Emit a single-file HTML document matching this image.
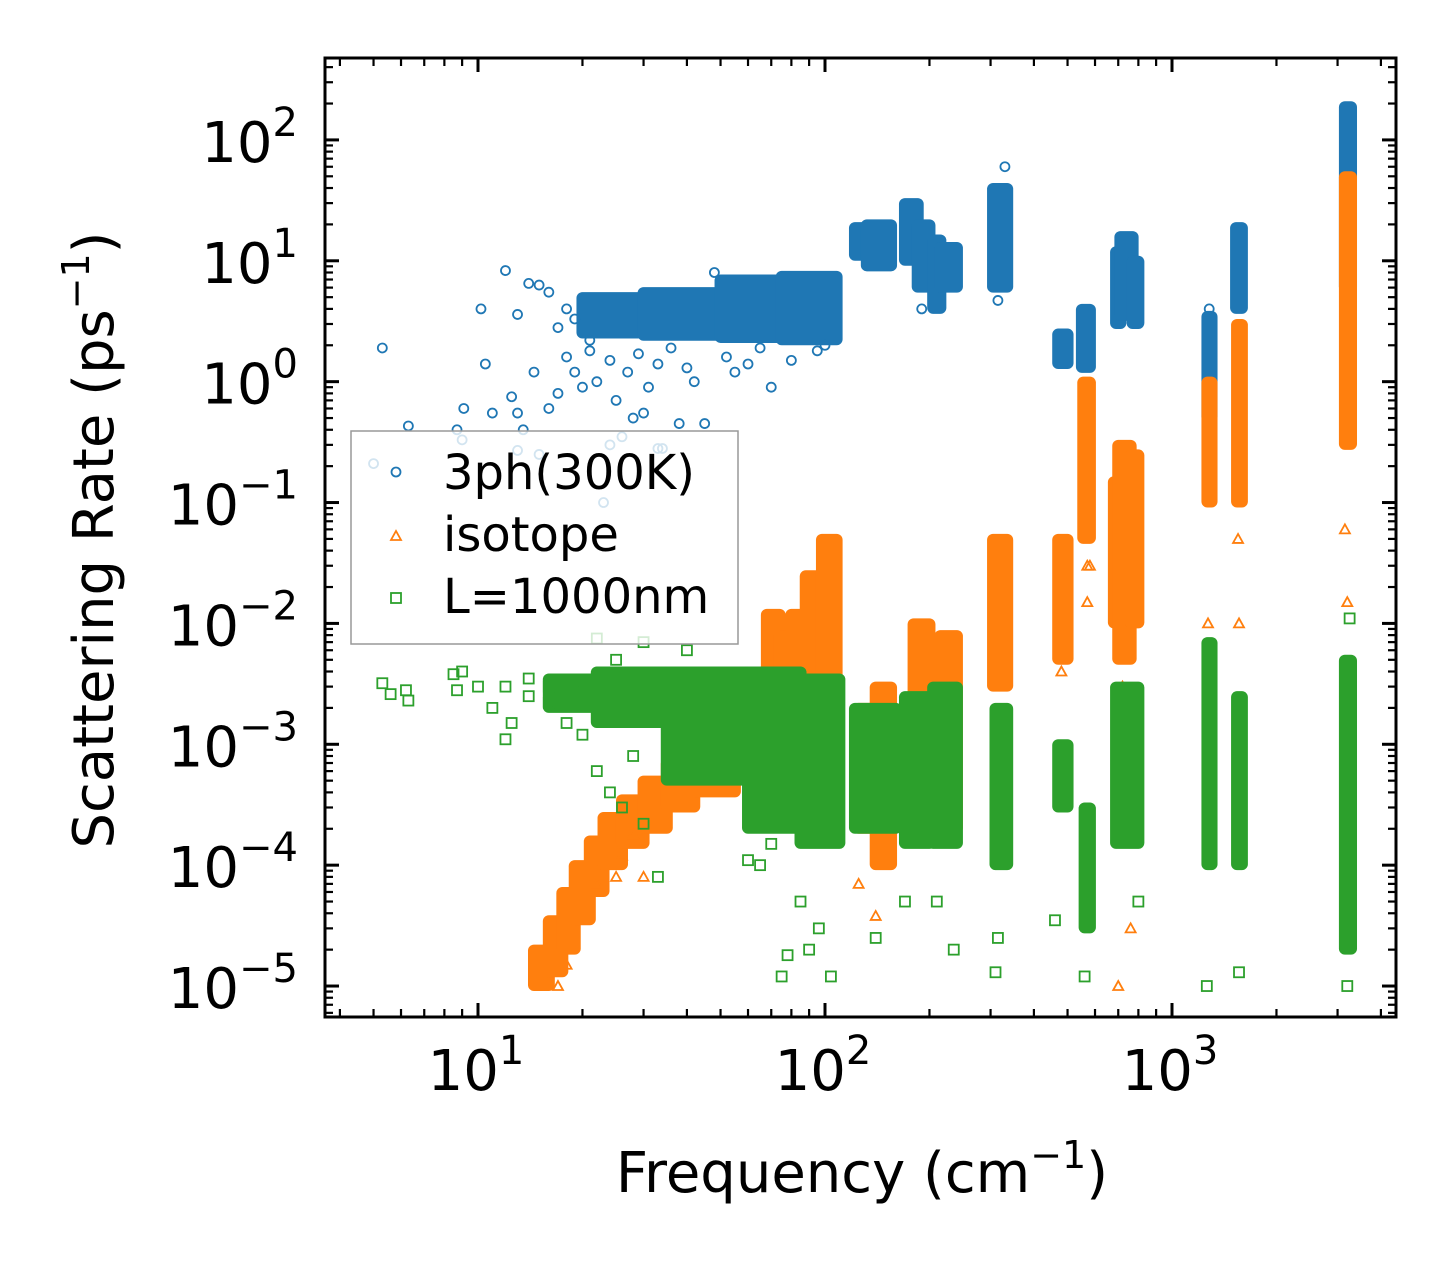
<!DOCTYPE html>
<html><head><meta charset="utf-8"><style>
body{margin:0;background:#fff;}
svg{display:block;font-family:"DejaVu Sans","Liberation Sans",sans-serif;}
</style></head><body>
<svg id="chart" width="1455" height="1265" viewBox="0 0 1455 1265" xmlns="http://www.w3.org/2000/svg">
<rect width="1455" height="1265" fill="#fff"/>
<g id="marks"></g>
<g id="axes"></g>
<g id="legend">
 <rect x="351" y="431" width="387" height="213" fill="#fff" fill-opacity="0.8" stroke="#999" stroke-width="1.5"/>
 <circle cx="396" cy="472" r="4.5" fill="none" stroke="#1f77b4" stroke-width="1.8"/>
 <text x="443" y="489" font-size="48" fill="#000">3ph(300K)</text>
 <path d="M391,540 L401,540 L396,531 Z" fill="none" stroke="#ff7f0e" stroke-width="1.8"/>
 <text x="443" y="551" font-size="48" fill="#000">isotope</text>
 <rect x="391" y="593" width="10" height="10" fill="none" stroke="#2ca02c" stroke-width="1.8"/>
 <text x="443" y="613" font-size="48" fill="#000">L=1000nm</text>
</g>
<text x="862" y="1192" font-size="56" text-anchor="middle">Frequency (cm<tspan dy="-24" font-size="38">−1</tspan><tspan dy="24">)</tspan></text>
<text transform="translate(113,540) rotate(-90)" font-size="56" text-anchor="middle">Scattering Rate (ps<tspan dy="-24" font-size="38">−1</tspan><tspan dy="24">)</tspan></text>
</svg>
<script>
// ---- data (frequency cm^-1, rate ps^-1) ----
const blueClusters = [[20,30,2.5,5],[30,50,2.4,5.5],[50,75,2.3,7],[75,108,2.2,7.5],[122,132,11,19],[132,155,9,20],[170,185,10,30],[185,200,6,20],[205,215,4,15],[215,240,6,13],[305,335,6,40],[470,500,1.4,2.5],[550,580,1.3,4],[690,710,3,12],[710,770,3.5,16],[770,800,3,10],[1265,1300,0.5,3.5],[1530,1590,4,19],[3150,3280,6,190]];
const bluePoints = [[5.3,1.9],[6.3,0.43],[8.7,0.4],[9.1,0.6],[10.2,4],[10.5,1.4],[11,0.55],[12,8.3],[12.5,0.75],[13,3.6],[13,0.55],[14,6.5],[15,6.3],[16,5.5],[14.5,1.2],[13.5,0.4],[15,0.25],[16,0.6],[17,0.8],[18,4],[23,0.1],[26,0.35],[30,0.55],[33,0.28],[38,0.45],[42,1.0],[45,0.45],[5,0.21],[9,0.33],[13,0.27],[24,0.3],[34,0.28],[20,0.9],[25,0.7],[28,0.5],[48,8],[55,1.2],[70,0.9],[330,60],[18,1.6],[19,1.2],[21,1.8],[22,1.0],[24,1.5],[27,1.2],[29,1.7],[31,0.9],[33,1.4],[36,1.9],[40,1.3],[52,1.6],[60,1.4],[65,1.9],[80,1.5],[95,1.8],[100,2.0],[17,2.8],[19,3.3],[21,2.2],[1270,0.4],[1280,4],[315,4.7],[190,4]];
const orangeClusters = [[14.5,16,1e-5,2e-5],[16,17.5,1.3e-5,3.5e-5],[17.5,19,2e-5,6e-5],[19,21,3.5e-5,1e-4],[21,23,6e-5,1.6e-4],[23,26,1e-4,2.5e-4],[26,30,1.5e-4,3.5e-4],[30,35,2e-4,5e-4],[35,42,3e-4,7e-4],[42,55,4e-4,1.2e-3],[55,68,6e-4,4e-3],[68,74,1e-3,1.2e-2],[74,80,1e-3,8e-3],[80,88,1e-3,1.2e-2],[88,98,1e-3,2.5e-2],[98,108,1.5e-3,5e-2],[125,135,2e-4,2e-3],[140,155,1e-4,3e-3],[180,200,3e-4,1e-2],[215,240,2e-4,8e-3],[305,335,3e-3,5e-2],[470,500,5e-3,5e-2],[555,580,0.05,1],[680,700,0.01,0.15],[700,760,0.005,0.3],[760,800,0.01,0.25],[1265,1300,0.1,1],[1540,1590,0.1,3],[3150,3280,0.3,50]];
const orangePoints = [[17,1e-5],[18,1.5e-5],[30,8e-5],[22,7e-5],[140,3.8e-5],[125,7e-5],[570,1.5e-2],[700,1e-5],[760,3e-5],[1270,1e-2],[1550,5e-2],[3200,1.5e-2],[580,3e-2],[1560,0.01],[3150,0.06],[26,1.2e-4],[28,1.8e-4],[25,8e-5],[480,4e-3],[570,0.03],[720,3e-3]];
const greenClusters = [[16,22,2e-3,3.5e-3],[22,35,1.5e-3,4e-3],[35,60,5e-4,4e-3],[60,85,2e-4,4e-3],[85,110,1.5e-4,3.5e-3],[122,160,2e-4,2e-3],[170,200,1.5e-4,2.5e-3],[205,240,1.5e-4,3e-3],[310,335,1e-4,2e-3],[470,500,3e-4,1e-3],[560,580,3e-5,3e-4],[690,800,1.5e-4,3e-3],[1265,1300,1e-4,7e-3],[1540,1590,1e-4,2.5e-3],[3150,3280,2e-5,5e-3]];
const greenPoints = [[5.3,3.2e-3],[5.6,2.6e-3],[6.2,2.8e-3],[6.3,2.3e-3],[8.5,3.8e-3],[9,4e-3],[8.7,2.8e-3],[10,3e-3],[11,2e-3],[12,1.1e-3],[12.5,1.5e-3],[14,2.5e-3],[16,2.2e-3],[20,1.2e-3],[22,7.5e-3],[33,8e-5],[60,1.1e-4],[75,1.2e-5],[78,1.8e-5],[90,2e-5],[96,3e-5],[104,1.2e-5],[170,5e-5],[210,5e-5],[235,2e-5],[310,1.3e-5],[315,2.5e-5],[460,3.5e-5],[560,1.2e-5],[800,5e-5],[1260,1e-5],[1560,1.3e-5],[3200,1e-5],[85,5e-5],[140,2.5e-5],[30,7e-3],[40,6e-3],[25,5e-3],[3250,1.1e-2],[18,1.5e-3],[20,2.8e-3],[22,6e-4],[24,4e-4],[26,3e-4],[28,8e-4],[30,2.2e-4],[12,3e-3],[14,3.5e-3],[16,3e-3],[65,1e-4],[70,1.5e-4]];
const xTickValues = [10,100,1000];
const xTickExps = ["1","2","3"];
const yTickExps = [2,1,0,-1,-2,-3,-4,-5];

// ---- scales ----
const L=325,R=1396,T=58,B=1017;
const xLo=Math.log10(10)-153/347, xHi=3+224/347;
const yHi=2+82/121, yLo=-5-31/121;
const X=v=>L+(Math.log10(v)-xLo)/(xHi-xLo)*(R-L);
const Y=v=>T+(yHi-Math.log10(v))/(yHi-yLo)*(B-T);
const NS="http://www.w3.org/2000/svg";
const marks=document.getElementById('marks');
const axes=document.getElementById('axes');
function mk(tag,attrs,parent){const e=document.createElementNS(NS,tag);for(const k in attrs)e.setAttribute(k,attrs[k]);parent.appendChild(e);return e;}
function markerXY(kind,color,x,y,parent){
  if(kind==='c') return mk('circle',{cx:x,cy:y,r:4.5,fill:'none',stroke:color,'stroke-width':1.8},parent);
  if(kind==='t') return mk('path',{d:`M${x-5},${y+4} L${x+5},${y+4} L${x},${y-5} Z`,fill:'none',stroke:color,'stroke-width':1.8},parent);
  return mk('rect',{x:x-5,y:y-5,width:10,height:10,fill:'none',stroke:color,'stroke-width':1.8},parent);
}
function series(name,kind,color,clusters,points){
  const g=mk('g',{},marks);
  
  
  clusters.forEach(c=>{
    const x0=X(c[0]),x1=X(c[1]),y0=Y(c[3]),y1=Y(c[2]);
    const r=mk('rect',{x:x0-6,y:y0-5,width:Math.max(1,x1-x0)+12,height:Math.max(1,y1-y0)+10,rx:6,ry:6,fill:color},g);
    
    
  });
  points.forEach(p=>{
    const e=markerXY(kind,color,X(p[0]),Y(p[1]),g);
    
    
  });
}
series('3ph','c','#1f77b4',blueClusters,bluePoints);
series('isotope','t','#ff7f0e',orangeClusters,orangePoints);
series('boundary','s','#2ca02c',greenClusters,greenPoints);

// ---- axes ----
mk('rect',{x:L,y:T,width:R-L,height:B-T,fill:'none',stroke:'#000','stroke-width':3},axes);
for(let d=0;d<=3;d++)for(let m=1;m<=9;m++){
  const v=m*10**d; const x=X(v); if(x<L||x>R)continue;
  const len=m===1?14:8;
  mk('line',{x1:x,x2:x,y1:B,y2:B-len,stroke:'#000','stroke-width':m===1?3:2.2},axes);
  mk('line',{x1:x,x2:x,y1:T,y2:T+len,stroke:'#000','stroke-width':m===1?3:2.2},axes);
}
for(let d=-6;d<=2;d++)for(let m=1;m<=9;m++){
  const v=m*10**d; const y=Y(v); if(y<T||y>B)continue;
  const len=m===1?14:8;
  mk('line',{x1:L,x2:L+len,y1:y,y2:y,stroke:'#000','stroke-width':m===1?3:2.2},axes);
  mk('line',{x1:R,x2:R-len,y1:y,y2:y,stroke:'#000','stroke-width':m===1?3:2.2},axes);
}
xTickValues.forEach((v,i)=>{
  const t=mk('text',{x:X(v)-2,y:1090,'font-size':56,'text-anchor':'middle'},axes);
  
  
  t.innerHTML=`10<tspan dy="-26" font-size="40">${xTickExps[i]}</tspan>`;
});
yTickExps.forEach(e=>{
  const t=mk('text',{x:298,y:Y(10**e)+22,'font-size':56,'text-anchor':'end'},axes);
  
  
  t.innerHTML=`10<tspan dy="-26" font-size="40">${e<0?'−'+(-e):e}</tspan>`;
});
</script>
</body></html>
